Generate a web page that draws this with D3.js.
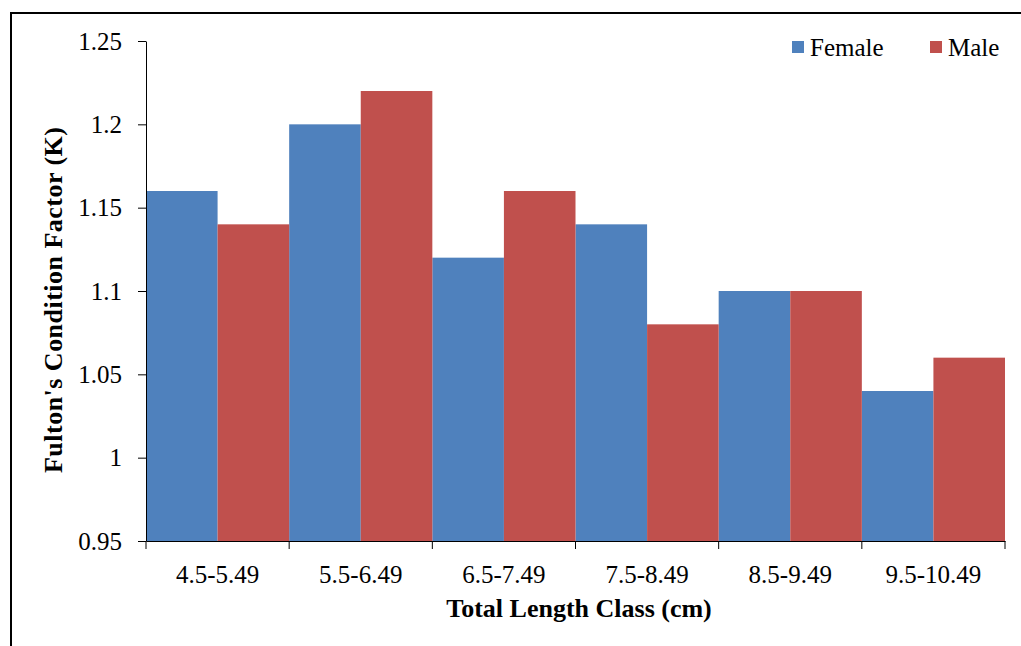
<!DOCTYPE html>
<html><head><meta charset="utf-8">
<script src="https://cdn.jsdelivr.net/npm/d3@7"></script>
<style>body{margin:0;background:#fff}svg{display:block}text{font-family:"Liberation Serif","Times New Roman",serif}</style>
</head><body>
<svg id="c" width="1021" height="646"></svg>
<script>
const categories = ["4.5-5.49","5.5-6.49","6.5-7.49","7.5-8.49","8.5-9.49","9.5-10.49"];
const seriesNames = ["Female","Male"];
const female = [1.16,1.20,1.12,1.14,1.10,1.04];
const male = [1.14,1.22,1.16,1.08,1.10,1.06];
const yTicks = [0.95,1,1.05,1.1,1.15,1.2,1.25];
const colors = ["#4F81BD","#C0504D"];

const svg = d3.select("#c");
svg.append("rect").attr("x",11).attr("y",13).attr("width",1200).attr("height",1000)
  .attr("fill","none").attr("stroke","#000").attr("stroke-width",2);

const L=146, R=1005, T=41, B=541;
const x = d3.scaleBand().domain(categories).range([L,R]).padding(0);
const xs = d3.scaleBand().domain(seriesNames).range([0,x.bandwidth()]).padding(0);
const y = d3.scaleLinear().domain([0.95,1.25]).range([B,T]);

const data = [female, male];
data.forEach((vals,si)=>{
  svg.append("g").selectAll("rect").data(vals).join("rect")
    .attr("x",(d,i)=>x(categories[i])+xs(seriesNames[si]))
    .attr("width",xs.bandwidth())
    .attr("y",d=>y(d)).attr("height",d=>y(0.95)-y(d))
    .attr("fill",colors[si]);
});

const ya = svg.append("g").attr("transform",`translate(${L},0)`)
  .call(d3.axisLeft(y).tickValues(yTicks).tickFormat(d=>String(d)).tickSize(8).tickSizeOuter(0).tickPadding(16));
ya.selectAll("text").attr("font-size",25).attr("font-family","Liberation Serif").attr("fill","#000");
ya.selectAll("line,path").attr("stroke","#000");

const xa = svg.append("g").attr("transform",`translate(0,${B})`)
  .call(d3.axisBottom(x).tickSize(0).tickPadding(0));
xa.selectAll("text").attr("font-size",25).attr("font-family","Liberation Serif").attr("fill","#000")
  .attr("dy",null).attr("y",42);
xa.select("path").attr("stroke","#000");
const bounds = categories.map(c=>x(c)).concat([R]);
xa.selectAll(".bt").data(bounds).join("line").attr("class","bt")
  .attr("x1",d=>d).attr("x2",d=>d).attr("y1",0).attr("y2",8).attr("stroke","#000");

svg.append("text").attr("x",579).attr("y",617).attr("text-anchor","middle")
  .attr("font-size",26).attr("font-weight","bold").text("Total Length Class (cm)");
svg.append("text").attr("transform","translate(62,300) rotate(-90)").attr("text-anchor","middle")
  .attr("font-size",26).attr("font-weight","bold").attr("textLength",346).attr("lengthAdjust","spacing")
  .text("Fulton's Condition Factor (K)");

const lg = svg.append("g");
const lx = [792, 930];
seriesNames.forEach((n,i)=>{
  lg.append("rect").attr("x",lx[i]).attr("y",41).attr("width",12).attr("height",12).attr("fill",colors[i]);
  lg.append("text").attr("x",lx[i]+18).attr("y",56).attr("font-size",25).text(n);
});
</script>
</body></html>
